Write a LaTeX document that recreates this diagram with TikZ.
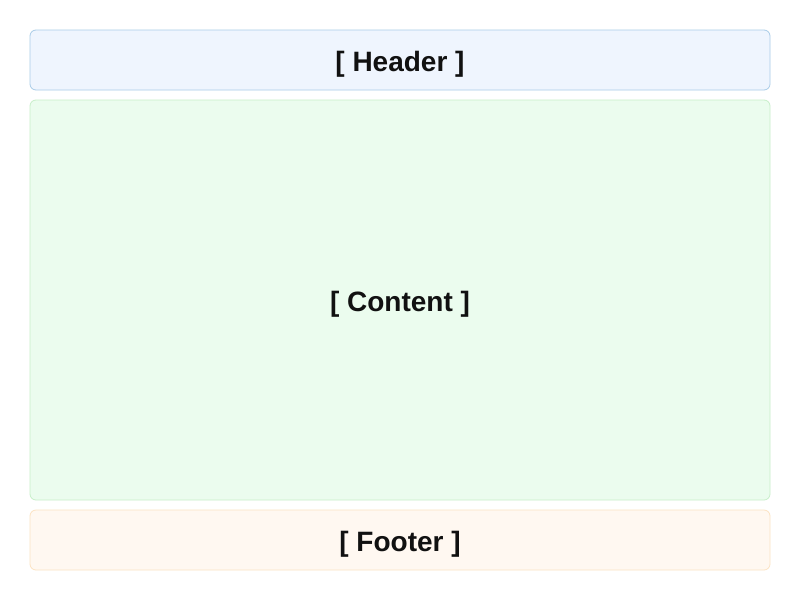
\documentclass[tikz,border=0pt]{standalone}
\usepackage{fontspec}
\setmainfont{Liberation Sans}
\definecolor{hfill}{HTML}{EFF5FE}
\definecolor{hdraw}{HTML}{A9CCE8}
\definecolor{cfill}{HTML}{EBFCEE}
\definecolor{cdraw}{HTML}{C7EFC9}
\definecolor{ffill}{HTML}{FFF8F1}
\definecolor{fdraw}{HTML}{FCE3C2}
\definecolor{txt}{HTML}{111111}
\tikzset{
  region/.style={rounded corners=6pt, line width=0.8pt},
  lbl/.style={font=\fontsize{28}{32}\selectfont\bfseries, text=txt, anchor=base, inner sep=0pt}
}
\begin{document}
\begin{tikzpicture}[x=1pt,y=-1pt]
\useasboundingbox[fill=white] (0,0) rectangle (800,600);
\draw[region, fill=hfill, draw=hdraw] (30,30) rectangle (770,90);
\draw[region, fill=cfill, draw=cdraw] (30,100) rectangle (770,500);
\draw[region, fill=ffill, draw=fdraw] (30,510) rectangle (770,570);
\node[lbl] (header) at (400,71.5) {[ Header ]};
\node[lbl] (content) at (400,311.5) {[ Content ]};
\node[lbl] (footer) at (400,551.5) {[ Footer ]};
\end{tikzpicture}
\end{document}
